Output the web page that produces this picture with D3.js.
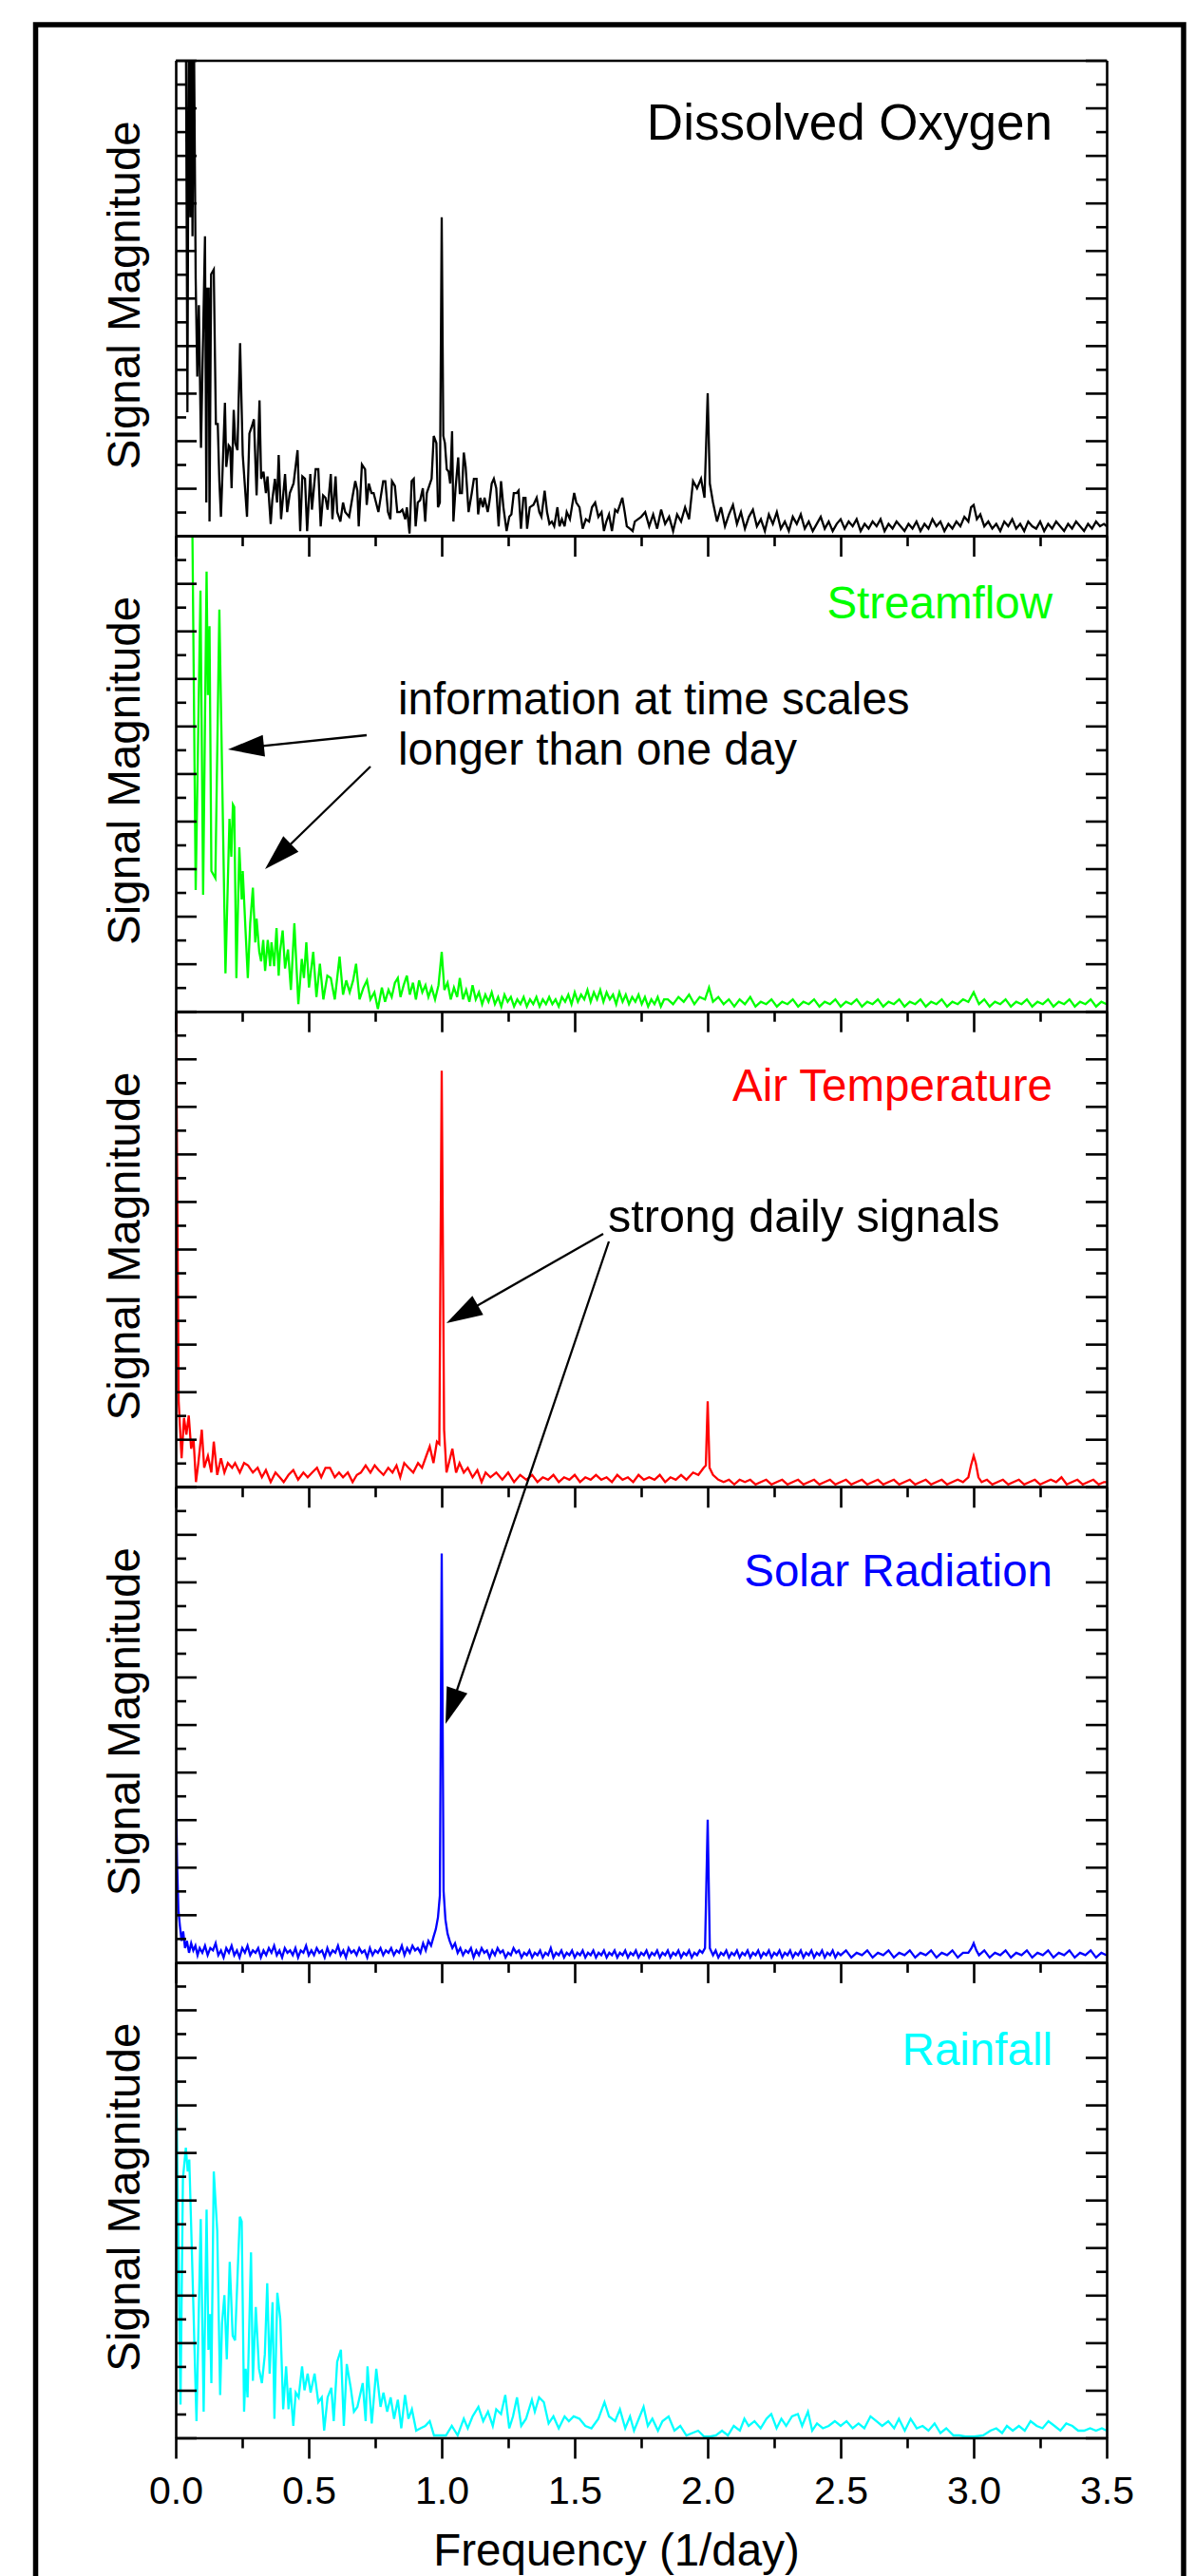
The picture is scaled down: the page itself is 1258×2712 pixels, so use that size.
<!DOCTYPE html>
<html><head><meta charset="utf-8">
<script src="https://cdn.jsdelivr.net/npm/d3@7"></script>
<style>
html,body{margin:0;padding:0;background:#fff;}
svg{display:block;}
text{font-family:"Liberation Sans", Arial, Helvetica, sans-serif;}
</style></head><body>
<svg id="chart" width="1258" height="2712"></svg>
<script>
// ---------------- DATA (frequency [1/day], signal magnitude) ----------------
const seriesNames = ["Dissolved Oxygen","Streamflow","Air Temperature","Solar Radiation","Rainfall"];
const seriesColors = ["#000000","#00ff00","#ff0000","#0000ff","#00ffff"];
const xTickValues = [0,0.5,1,1.5,2,2.5,3,3.5];
const xTickLabels = ["0.0","0.5","1.0","1.5","2.0","2.5","3.0","3.5"];
const xMinorTicks = [0.25,0.75,1.25,1.75,2.25,2.75,3.25];
const yMajorTicks = [0,2,4,6,8,10,12,14,16,18,20];
const yMinorTicks = [1,3,5,7,9,11,13,15,17,19];
const xTitle = "Frequency (1/day)";
const yTitle = "Signal Magnitude";

const dissolvedOxygen = [[0.000,30],[0.030,30],[0.038,22],[0.044,5.2],[0.049,22],[0.055,13.4],[0.059,22],[0.063,12.6],[0.068,22],[0.075,10.8],[0.081,6.7],[0.087,9.7],[0.095,3.7],[0.110,12.6],[0.115,1.4],[0.119,10.4],[0.124,10.4],[0.127,0.6],[0.133,11.0],[0.143,11.2],[0.151,4.7],[0.158,4.7],[0.164,2.3],[0.170,0.8],[0.185,5.6],[0.190,2.9],[0.199,3.8],[0.205,3.7],[0.210,2.0],[0.218,5.3],[0.224,3.9],[0.232,3.6],[0.242,8.1],[0.252,3.4],[0.268,0.8],[0.277,4.3],[0.286,4.6],[0.294,4.9],[0.304,1.7],[0.315,5.7],[0.321,2.4],[0.330,2.7],[0.339,1.8],[0.345,2.5],[0.357,0.5],[0.363,1.5],[0.373,2.4],[0.381,1.4],[0.387,3.4],[0.396,0.7],[0.411,2.6],[0.419,1.0],[0.429,1.8],[0.443,2.2],[0.458,3.6],[0.468,0.2],[0.476,2.5],[0.486,2.4],[0.494,0.2],[0.506,2.6],[0.512,1.1],[0.526,2.8],[0.536,2.8],[0.545,0.4],[0.554,1.7],[0.563,1.6],[0.571,1.1],[0.583,2.6],[0.589,0.7],[0.601,2.5],[0.607,1.0],[0.619,0.6],[0.629,1.4],[0.637,1.0],[0.652,0.8],[0.664,1.6],[0.675,2.3],[0.683,1.9],[0.688,0.4],[0.700,3.0],[0.712,2.8],[0.718,1.3],[0.726,2.2],[0.736,1.8],[0.744,1.8],[0.762,1.0],[0.780,2.3],[0.788,2.3],[0.798,1.0],[0.807,0.7],[0.813,2.3],[0.824,2.1],[0.833,1.0],[0.843,1.0],[0.852,1.1],[0.863,0.7],[0.869,1.2],[0.879,0.1],[0.887,2.3],[0.895,2.4],[0.902,0.4],[0.910,1.4],[0.919,1.5],[0.929,2.0],[0.938,0.6],[0.944,1.8],[0.962,2.4],[0.970,4.2],[0.980,3.9],[0.986,1.2],[0.993,1.4],[1.000,13.4],[1.006,4.2],[1.012,3.9],[1.019,2.8],[1.026,2.7],[1.032,2.2],[1.039,4.4],[1.044,0.6],[1.052,2.0],[1.062,3.3],[1.068,1.8],[1.076,1.8],[1.083,3.5],[1.090,2.9],[1.101,1.0],[1.113,1.8],[1.121,2.4],[1.131,2.4],[1.137,0.9],[1.145,1.6],[1.155,1.2],[1.161,1.6],[1.173,1.0],[1.179,1.4],[1.188,2.2],[1.196,2.4],[1.205,2.0],[1.214,0.4],[1.223,2.3],[1.232,1.2],[1.244,0.2],[1.254,0.8],[1.262,0.9],[1.271,1.8],[1.282,1.8],[1.289,1.9],[1.298,0.3],[1.307,1.6],[1.315,1.6],[1.321,0.3],[1.331,1.2],[1.345,1.3],[1.357,1.6],[1.367,1.0],[1.375,0.8],[1.387,1.9],[1.396,1.0],[1.405,0.5],[1.414,0.6],[1.423,0.4],[1.435,1.2],[1.443,0.4],[1.452,0.7],[1.462,0.4],[1.470,1.0],[1.482,0.7],[1.498,1.8],[1.506,1.4],[1.518,1.2],[1.530,0.3],[1.542,0.7],[1.554,0.6],[1.565,1.2],[1.577,1.4],[1.589,0.8],[1.601,1.0],[1.610,0.2],[1.619,0.6],[1.629,0.9],[1.640,0.2],[1.652,1.1],[1.661,1.0],[1.679,1.6],[1.688,1.0],[1.696,0.4],[1.708,0.3],[1.718,0.2],[1.726,0.6],[1.738,0.7],[1.750,0.8],[1.765,1.0],[1.780,0.4],[1.795,0.9],[1.810,0.3],[1.825,1.1],[1.840,0.5],[1.855,0.8],[1.870,0.2],[1.885,0.9],[1.900,0.6],[1.915,1.2],[1.930,0.7],[1.945,2.3],[1.960,2.0],[1.975,2.4],[1.988,1.6],[2.000,6.0],[2.008,2.2],[2.020,1.4],[2.035,0.6],[2.050,1.2],[2.065,0.4],[2.080,0.9],[2.095,1.3],[2.110,0.5],[2.125,1.0],[2.140,0.3],[2.155,0.8],[2.170,1.1],[2.185,0.4],[2.200,0.7],[2.215,0.2],[2.230,0.9],[2.245,0.5],[2.260,1.0],[2.275,0.3],[2.290,0.6],[2.305,0.2],[2.320,0.8],[2.335,0.5],[2.350,0.9],[2.365,0.3],[2.380,0.6],[2.395,0.2],[2.410,0.5],[2.425,0.8],[2.440,0.3],[2.455,0.6],[2.470,0.2],[2.485,0.5],[2.500,0.7],[2.515,0.3],[2.530,0.6],[2.545,0.4],[2.560,0.7],[2.575,0.2],[2.590,0.5],[2.605,0.3],[2.620,0.6],[2.635,0.4],[2.650,0.7],[2.665,0.2],[2.680,0.5],[2.695,0.3],[2.710,0.6],[2.725,0.4],[2.740,0.2],[2.755,0.5],[2.770,0.3],[2.785,0.6],[2.800,0.2],[2.815,0.5],[2.830,0.3],[2.845,0.7],[2.860,0.4],[2.875,0.6],[2.890,0.2],[2.905,0.5],[2.920,0.3],[2.935,0.6],[2.950,0.4],[2.965,0.8],[2.980,0.6],[2.990,1.2],[3.000,1.3],[3.012,0.7],[3.025,0.9],[3.040,0.4],[3.055,0.6],[3.070,0.3],[3.085,0.5],[3.100,0.2],[3.115,0.6],[3.130,0.4],[3.145,0.7],[3.160,0.3],[3.175,0.5],[3.190,0.2],[3.205,0.6],[3.220,0.4],[3.235,0.3],[3.250,0.6],[3.265,0.2],[3.280,0.5],[3.295,0.3],[3.310,0.6],[3.325,0.4],[3.340,0.2],[3.355,0.5],[3.370,0.3],[3.385,0.6],[3.400,0.4],[3.415,0.2],[3.430,0.5],[3.445,0.3],[3.460,0.6],[3.475,0.4],[3.490,0.5],[3.500,0.4]];

const streamflow = [[0.000,30],[0.058,30],[0.062,21],[0.075,5.1],[0.093,17.7],[0.103,4.9],[0.116,18.5],[0.121,13.3],[0.127,16.2],[0.134,5.9],[0.149,5.6],[0.164,16.9],[0.187,1.6],[0.202,8.1],[0.209,6.5],[0.215,8.7],[0.220,8.6],[0.228,1.4],[0.239,6.9],[0.248,4.7],[0.252,5.9],[0.262,3.5],[0.271,1.4],[0.280,3.7],[0.290,5.2],[0.299,2.9],[0.304,3.9],[0.314,2.5],[0.321,2.1],[0.329,3.0],[0.336,1.7],[0.346,3.0],[0.355,1.9],[0.360,2.9],[0.370,1.9],[0.379,3.5],[0.387,1.5],[0.392,2.5],[0.402,3.4],[0.411,1.8],[0.422,2.6],[0.433,0.9],[0.446,3.7],[0.461,0.3],[0.474,2.2],[0.482,1.4],[0.491,2.9],[0.501,1.0],[0.517,2.5],[0.529,0.6],[0.542,2.0],[0.555,0.5],[0.570,1.5],[0.583,1.4],[0.598,0.5],[0.616,2.3],[0.629,0.7],[0.641,1.3],[0.654,0.8],[0.667,1.3],[0.678,2.0],[0.691,0.5],[0.706,1.0],[0.719,1.3],[0.732,0.5],[0.747,0.8],[0.760,0.1],[0.775,1.0],[0.787,0.4],[0.800,0.9],[0.812,0.6],[0.824,1.2],[0.835,1.4],[0.845,0.6],[0.857,1.1],[0.869,1.5],[0.880,0.7],[0.892,1.2],[0.903,0.5],[0.915,1.3],[0.927,0.8],[0.939,1.1],[0.950,0.6],[0.962,1.0],[0.975,0.5],[0.988,1.1],[1.000,2.5],[1.010,0.9],[1.022,1.2],[1.034,0.5],[1.046,1.0],[1.058,0.6],[1.068,1.4],[1.080,0.5],[1.092,0.9],[1.104,0.4],[1.116,1.1],[1.128,0.5],[1.140,0.8],[1.152,0.3],[1.164,0.7],[1.176,0.4],[1.188,0.8],[1.200,0.3],[1.212,0.6],[1.224,0.2],[1.236,0.7],[1.248,0.4],[1.260,0.6],[1.272,0.2],[1.284,0.5],[1.296,0.3],[1.308,0.6],[1.320,0.2],[1.332,0.5],[1.344,0.3],[1.356,0.6],[1.368,0.2],[1.380,0.5],[1.392,0.3],[1.404,0.6],[1.416,0.3],[1.428,0.5],[1.440,0.2],[1.452,0.6],[1.464,0.4],[1.476,0.7],[1.488,0.3],[1.500,0.8],[1.512,0.4],[1.524,0.7],[1.536,0.5],[1.548,0.9],[1.560,0.4],[1.572,0.8],[1.584,0.5],[1.596,0.9],[1.608,0.4],[1.620,0.8],[1.632,0.5],[1.644,0.7],[1.656,0.3],[1.668,0.8],[1.680,0.4],[1.692,0.7],[1.704,0.3],[1.716,0.6],[1.728,0.4],[1.740,0.7],[1.752,0.3],[1.764,0.6],[1.776,0.2],[1.788,0.5],[1.800,0.3],[1.812,0.6],[1.824,0.2],[1.836,0.5],[1.850,0.5],[1.870,0.3],[1.890,0.6],[1.910,0.4],[1.930,0.7],[1.950,0.3],[1.970,0.6],[1.990,0.5],[2.005,1.0],[2.020,0.4],[2.040,0.6],[2.060,0.3],[2.080,0.5],[2.100,0.2],[2.120,0.5],[2.140,0.3],[2.160,0.6],[2.180,0.2],[2.200,0.4],[2.220,0.3],[2.240,0.5],[2.260,0.2],[2.280,0.4],[2.300,0.3],[2.320,0.5],[2.340,0.2],[2.360,0.4],[2.380,0.3],[2.400,0.5],[2.420,0.2],[2.440,0.4],[2.460,0.3],[2.480,0.5],[2.500,0.2],[2.520,0.4],[2.540,0.3],[2.560,0.5],[2.580,0.2],[2.600,0.4],[2.620,0.3],[2.640,0.5],[2.660,0.2],[2.680,0.4],[2.700,0.3],[2.720,0.5],[2.740,0.2],[2.760,0.4],[2.780,0.3],[2.800,0.5],[2.820,0.2],[2.840,0.4],[2.860,0.3],[2.880,0.5],[2.900,0.2],[2.920,0.4],[2.940,0.3],[2.960,0.5],[2.980,0.4],[3.000,0.8],[3.020,0.3],[3.040,0.5],[3.060,0.2],[3.080,0.4],[3.100,0.3],[3.120,0.5],[3.140,0.2],[3.160,0.4],[3.180,0.3],[3.200,0.5],[3.220,0.2],[3.240,0.4],[3.260,0.3],[3.280,0.5],[3.300,0.2],[3.320,0.4],[3.340,0.3],[3.360,0.5],[3.380,0.2],[3.400,0.4],[3.420,0.3],[3.440,0.5],[3.460,0.2],[3.480,0.4],[3.500,0.3]];

const airTemperature = [[0.000,22],[0.011,3.6],[0.022,1.2],[0.031,2.9],[0.040,2.2],[0.049,3.0],[0.058,1.6],[0.067,2.0],[0.076,0.2],[0.085,1.0],[0.098,2.4],[0.107,0.8],[0.121,1.3],[0.134,0.6],[0.143,1.9],[0.156,0.5],[0.170,1.2],[0.183,0.6],[0.196,1.0],[0.212,0.8],[0.223,1.0],[0.241,0.6],[0.257,1.0],[0.272,0.9],[0.290,0.6],[0.308,0.8],[0.324,0.4],[0.339,0.7],[0.357,0.2],[0.375,0.6],[0.391,0.4],[0.406,0.2],[0.424,0.5],[0.442,0.7],[0.460,0.3],[0.480,0.6],[0.496,0.4],[0.513,0.6],[0.531,0.8],[0.547,0.4],[0.563,0.8],[0.580,0.8],[0.598,0.4],[0.614,0.6],[0.629,0.4],[0.647,0.6],[0.665,0.2],[0.681,0.5],[0.696,0.6],[0.714,0.9],[0.732,0.6],[0.748,0.9],[0.763,0.7],[0.781,0.5],[0.799,0.8],[0.815,0.6],[0.830,0.9],[0.844,0.4],[0.859,1.0],[0.875,0.8],[0.893,0.6],[0.911,1.0],[0.926,0.8],[0.942,1.3],[0.955,1.7],[0.969,1.0],[0.982,1.9],[0.991,1.8],[1.000,17.5],[1.009,2.4],[1.018,0.6],[1.027,1.0],[1.040,1.6],[1.054,0.6],[1.067,1.0],[1.083,0.6],[1.098,0.8],[1.116,0.4],[1.134,0.7],[1.150,0.2],[1.165,0.6],[1.183,0.4],[1.205,0.6],[1.228,0.3],[1.250,0.6],[1.272,0.2],[1.295,0.5],[1.318,0.3],[1.340,0.5],[1.360,0.2],[1.380,0.4],[1.400,0.3],[1.420,0.5],[1.440,0.2],[1.460,0.4],[1.480,0.3],[1.500,0.5],[1.520,0.2],[1.540,0.4],[1.560,0.3],[1.580,0.5],[1.600,0.3],[1.620,0.4],[1.640,0.2],[1.660,0.5],[1.680,0.3],[1.700,0.4],[1.720,0.2],[1.740,0.5],[1.760,0.3],[1.780,0.4],[1.800,0.3],[1.820,0.5],[1.840,0.2],[1.860,0.4],[1.880,0.3],[1.900,0.5],[1.920,0.3],[1.945,0.6],[1.965,0.5],[1.985,0.8],[1.993,0.9],[2.000,3.6],[2.007,0.8],[2.020,0.5],[2.040,0.3],[2.060,0.2],[2.080,0.3],[2.100,0.1],[2.120,0.3],[2.140,0.2],[2.160,0.3],[2.180,0.1],[2.200,0.2],[2.220,0.3],[2.240,0.1],[2.260,0.2],[2.280,0.3],[2.300,0.1],[2.320,0.2],[2.340,0.3],[2.360,0.1],[2.380,0.2],[2.400,0.3],[2.420,0.1],[2.440,0.2],[2.460,0.3],[2.480,0.1],[2.500,0.2],[2.520,0.3],[2.540,0.1],[2.560,0.2],[2.580,0.3],[2.600,0.1],[2.620,0.2],[2.640,0.3],[2.660,0.1],[2.680,0.2],[2.700,0.3],[2.720,0.1],[2.740,0.2],[2.760,0.3],[2.780,0.1],[2.800,0.2],[2.820,0.3],[2.840,0.1],[2.860,0.2],[2.880,0.3],[2.900,0.1],[2.920,0.2],[2.940,0.3],[2.960,0.2],[2.980,0.4],[2.990,0.9],[3.000,1.3],[3.008,1.0],[3.018,0.4],[3.030,0.2],[3.050,0.3],[3.070,0.1],[3.090,0.2],[3.110,0.3],[3.130,0.1],[3.150,0.2],[3.170,0.3],[3.190,0.1],[3.210,0.2],[3.230,0.3],[3.250,0.1],[3.270,0.2],[3.290,0.3],[3.310,0.2],[3.330,0.4],[3.350,0.1],[3.370,0.2],[3.390,0.3],[3.410,0.1],[3.430,0.2],[3.450,0.3],[3.470,0.1],[3.490,0.2],[3.500,0.2]];

const solarRadiation = [[0.000,8.0],[0.005,4.2],[0.010,2.2],[0.016,1.5],[0.022,0.9],[0.028,1.3],[0.035,0.6],[0.042,0.9],[0.050,0.4],[0.058,0.8],[0.066,0.5],[0.074,0.7],[0.082,0.3],[0.090,0.6],[0.100,0.4],[0.110,0.7],[0.120,0.3],[0.130,0.6],[0.140,0.5],[0.150,0.8],[0.160,0.3],[0.170,0.5],[0.180,0.2],[0.190,0.6],[0.200,0.4],[0.210,0.7],[0.220,0.3],[0.230,0.5],[0.240,0.2],[0.250,0.6],[0.260,0.4],[0.270,0.7],[0.280,0.3],[0.290,0.5],[0.300,0.4],[0.310,0.6],[0.320,0.2],[0.330,0.5],[0.340,0.3],[0.350,0.6],[0.360,0.4],[0.370,0.7],[0.380,0.3],[0.390,0.5],[0.400,0.2],[0.410,0.6],[0.420,0.4],[0.430,0.5],[0.440,0.3],[0.450,0.6],[0.460,0.2],[0.470,0.5],[0.480,0.4],[0.490,0.7],[0.500,0.3],[0.510,0.5],[0.520,0.3],[0.530,0.6],[0.540,0.4],[0.550,0.5],[0.560,0.2],[0.570,0.6],[0.580,0.3],[0.590,0.5],[0.600,0.4],[0.610,0.7],[0.620,0.3],[0.630,0.5],[0.640,0.2],[0.650,0.6],[0.660,0.4],[0.670,0.5],[0.680,0.3],[0.690,0.6],[0.700,0.4],[0.710,0.5],[0.720,0.2],[0.730,0.6],[0.740,0.3],[0.750,0.5],[0.760,0.4],[0.770,0.6],[0.780,0.3],[0.790,0.5],[0.800,0.4],[0.810,0.6],[0.820,0.3],[0.830,0.5],[0.840,0.4],[0.850,0.7],[0.860,0.3],[0.870,0.6],[0.880,0.4],[0.890,0.7],[0.900,0.5],[0.910,0.6],[0.920,0.4],[0.930,0.8],[0.940,0.5],[0.950,0.9],[0.960,0.7],[0.970,1.1],[0.978,1.4],[0.986,1.9],[0.993,2.8],[1.000,17.2],[1.007,3.0],[1.014,1.8],[1.022,1.2],[1.030,0.9],[1.040,0.6],[1.050,0.8],[1.060,0.4],[1.070,0.6],[1.080,0.3],[1.090,0.5],[1.100,0.4],[1.110,0.6],[1.120,0.2],[1.130,0.5],[1.140,0.3],[1.150,0.6],[1.160,0.4],[1.170,0.5],[1.180,0.2],[1.190,0.5],[1.200,0.3],[1.210,0.6],[1.220,0.4],[1.230,0.5],[1.240,0.2],[1.250,0.4],[1.260,0.3],[1.270,0.6],[1.280,0.4],[1.290,0.5],[1.300,0.2],[1.310,0.4],[1.320,0.3],[1.330,0.5],[1.340,0.2],[1.350,0.4],[1.360,0.3],[1.370,0.5],[1.380,0.2],[1.390,0.4],[1.400,0.3],[1.410,0.6],[1.420,0.2],[1.430,0.4],[1.440,0.3],[1.450,0.5],[1.460,0.2],[1.470,0.4],[1.480,0.3],[1.490,0.5],[1.500,0.2],[1.510,0.4],[1.520,0.3],[1.530,0.5],[1.540,0.2],[1.550,0.4],[1.560,0.3],[1.570,0.5],[1.580,0.2],[1.590,0.4],[1.600,0.3],[1.610,0.5],[1.620,0.2],[1.630,0.4],[1.640,0.3],[1.650,0.5],[1.660,0.2],[1.670,0.4],[1.680,0.3],[1.690,0.5],[1.700,0.2],[1.710,0.4],[1.720,0.3],[1.730,0.5],[1.740,0.2],[1.750,0.4],[1.760,0.3],[1.770,0.5],[1.780,0.2],[1.790,0.4],[1.800,0.3],[1.810,0.5],[1.820,0.2],[1.830,0.4],[1.840,0.3],[1.850,0.5],[1.860,0.2],[1.870,0.4],[1.880,0.3],[1.890,0.5],[1.900,0.2],[1.910,0.4],[1.920,0.3],[1.930,0.5],[1.940,0.2],[1.950,0.4],[1.960,0.3],[1.970,0.5],[1.980,0.4],[1.990,0.6],[2.000,6.0],[2.008,0.6],[2.020,0.3],[2.030,0.5],[2.040,0.2],[2.050,0.4],[2.060,0.3],[2.070,0.5],[2.080,0.2],[2.090,0.4],[2.100,0.3],[2.110,0.5],[2.120,0.2],[2.130,0.4],[2.140,0.3],[2.150,0.5],[2.160,0.2],[2.170,0.4],[2.180,0.3],[2.190,0.5],[2.200,0.2],[2.210,0.4],[2.220,0.3],[2.230,0.5],[2.240,0.2],[2.250,0.4],[2.260,0.3],[2.270,0.5],[2.280,0.2],[2.290,0.4],[2.300,0.3],[2.310,0.5],[2.320,0.2],[2.330,0.4],[2.340,0.3],[2.350,0.5],[2.360,0.2],[2.370,0.4],[2.380,0.3],[2.390,0.5],[2.400,0.2],[2.410,0.4],[2.420,0.3],[2.430,0.5],[2.440,0.2],[2.450,0.4],[2.460,0.3],[2.470,0.5],[2.480,0.2],[2.490,0.4],[2.500,0.3],[2.520,0.5],[2.540,0.2],[2.560,0.4],[2.580,0.3],[2.600,0.5],[2.620,0.2],[2.640,0.4],[2.660,0.3],[2.680,0.5],[2.700,0.2],[2.720,0.4],[2.740,0.3],[2.760,0.5],[2.780,0.2],[2.800,0.4],[2.820,0.3],[2.840,0.5],[2.860,0.2],[2.880,0.4],[2.900,0.3],[2.920,0.5],[2.940,0.2],[2.960,0.4],[2.980,0.4],[2.992,0.6],[3.000,0.8],[3.010,0.5],[3.020,0.3],[3.040,0.5],[3.060,0.2],[3.080,0.4],[3.100,0.3],[3.120,0.5],[3.140,0.2],[3.160,0.4],[3.180,0.3],[3.200,0.5],[3.220,0.2],[3.240,0.4],[3.260,0.3],[3.280,0.5],[3.300,0.2],[3.320,0.4],[3.340,0.3],[3.360,0.5],[3.380,0.2],[3.400,0.4],[3.420,0.3],[3.440,0.5],[3.460,0.2],[3.480,0.4],[3.500,0.3]];

const rainfall = [[0.000,16.7],[0.018,1.4],[0.027,10.9],[0.038,12.2],[0.045,11.2],[0.051,11.7],[0.063,6.9],[0.078,0.7],[0.094,9.2],[0.105,1.1],[0.116,9.6],[0.123,3.7],[0.129,5.2],[0.134,2.3],[0.143,11.2],[0.156,8.7],[0.167,1.8],[0.174,4.8],[0.183,6.0],[0.192,3.3],[0.203,7.4],[0.214,4.3],[0.223,4.1],[0.232,6.7],[0.241,9.3],[0.248,9.1],[0.257,1.1],[0.263,2.9],[0.270,1.7],[0.283,7.8],[0.290,2.4],[0.301,5.5],[0.313,2.9],[0.324,2.3],[0.335,3.5],[0.344,6.5],[0.353,2.7],[0.364,5.7],[0.371,0.8],[0.382,6.1],[0.393,5.0],[0.404,1.2],[0.415,3.0],[0.424,1.2],[0.431,2.1],[0.442,0.5],[0.451,1.9],[0.462,1.7],[0.475,3.0],[0.484,2.0],[0.496,2.7],[0.507,1.9],[0.522,2.7],[0.536,1.5],[0.549,1.7],[0.558,0.3],[0.571,1.7],[0.585,2.1],[0.594,0.7],[0.607,3.2],[0.621,3.7],[0.632,0.5],[0.643,3.1],[0.658,2.1],[0.670,1.1],[0.683,1.3],[0.703,2.3],[0.714,0.7],[0.721,3.0],[0.737,0.6],[0.754,2.9],[0.770,1.3],[0.781,1.9],[0.795,1.1],[0.808,1.7],[0.821,0.8],[0.835,1.6],[0.848,0.4],[0.862,1.8],[0.875,0.8],[0.888,1.2],[0.904,0.3],[0.920,0.4],[0.938,0.5],[0.955,0.7],[0.971,0.1],[0.993,0.1],[1.016,0.1],[1.038,0.5],[1.060,0.1],[1.083,0.8],[1.098,0.4],[1.116,0.9],[1.138,1.3],[1.156,0.7],[1.174,1.1],[1.192,0.5],[1.205,1.2],[1.223,1.0],[1.239,1.8],[1.254,0.4],[1.268,0.9],[1.283,1.7],[1.299,0.5],[1.317,0.8],[1.339,1.6],[1.350,1.1],[1.366,1.7],[1.384,1.5],[1.402,0.6],[1.420,0.9],[1.440,0.4],[1.462,0.9],[1.478,0.7],[1.496,0.9],[1.518,0.8],[1.540,0.5],[1.563,0.4],[1.589,0.8],[1.612,1.5],[1.629,0.9],[1.652,0.7],[1.670,1.2],[1.690,0.4],[1.708,0.9],[1.723,0.3],[1.741,0.8],[1.759,1.3],[1.775,0.5],[1.792,0.8],[1.813,0.3],[1.830,0.7],[1.853,0.9],[1.875,0.3],[1.897,0.5],[1.920,0.1],[1.942,0.2],[1.964,0.3],[1.987,0.05],[2.009,0.05],[2.031,0.1],[2.054,0.3],[2.076,0.1],[2.098,0.5],[2.121,0.3],[2.138,0.8],[2.154,0.5],[2.176,0.7],[2.199,0.4],[2.221,0.8],[2.239,1.0],[2.259,0.4],[2.277,0.8],[2.295,0.5],[2.317,0.9],[2.339,1.0],[2.355,0.5],[2.377,1.1],[2.393,0.3],[2.411,0.6],[2.433,0.4],[2.455,0.5],[2.478,0.7],[2.500,0.5],[2.522,0.7],[2.545,0.4],[2.567,0.6],[2.589,0.4],[2.612,0.9],[2.634,0.7],[2.656,0.5],[2.679,0.7],[2.701,0.4],[2.719,0.8],[2.741,0.3],[2.763,0.8],[2.786,0.4],[2.808,0.5],[2.830,0.3],[2.853,0.6],[2.875,0.2],[2.897,0.4],[2.924,0.1],[2.946,0.1],[2.969,0.05],[3.002,0.05],[3.036,0.1],[3.063,0.3],[3.085,0.4],[3.107,0.2],[3.125,0.5],[3.147,0.3],[3.170,0.5],[3.192,0.3],[3.214,0.7],[3.237,0.5],[3.259,0.4],[3.281,0.7],[3.304,0.5],[3.326,0.3],[3.348,0.6],[3.371,0.5],[3.393,0.3],[3.415,0.3],[3.438,0.4],[3.460,0.3],[3.482,0.4],[3.500,0.3]];

const seriesData = [dissolvedOxygen, streamflow, airTemperature, solarRadiation, rainfall];

// ---------------- LAYOUT ----------------
const plotLeft = 185, plotRight = 1165, plotTop = 63.5, panelH = 500.6;
const labelRight = 1108;
const labelOffsets = [83.5, 87, 94.5, 105, 108.5];
const labelSizes = [53, 47.5, 47.5, 47.5, 47.5];
const fontSize = 47.5;
const svg = d3.select("#chart");

// outer frame
svg.append("rect").attr("x", 37.5).attr("y", 26).attr("width", 1246 - 37.5).attr("height", 3000)
  .attr("fill", "none").attr("stroke", "#000").attr("stroke-width", 5.5);

const x = d3.scaleLinear().domain([0, 3.5]).range([plotLeft, plotRight]);
const defs = svg.append("defs");

function styleAxis(g) {
  g.selectAll(".domain").attr("stroke", "#000").attr("stroke-width", 2.6);
  g.selectAll(".tick line").attr("stroke", "#000").attr("stroke-width", 2.6);
}

seriesData.forEach((data, i) => {
  const top = plotTop + i * panelH, bottom = top + panelH;
  const y = d3.scaleLinear().domain([0, 20]).range([bottom, top]);
  defs.append("clipPath").attr("id", "clip" + i).append("rect")
    .attr("x", plotLeft).attr("y", top).attr("width", plotRight - plotLeft).attr("height", panelH);

  svg.append("path").datum(data)
    .attr("clip-path", `url(#clip${i})`)
    .attr("fill", "none").attr("stroke", seriesColors[i]).attr("stroke-width", 2.3)
    .attr("stroke-linejoin", "miter")
    .attr("d", d3.line().x(d => x(d[0])).y(d => y(d[1])));

  // left axis
  const gl = svg.append("g").attr("transform", `translate(${plotLeft},0)`);
  gl.call(d3.axisLeft(y).tickValues(yMajorTicks).tickSize(-22).tickSizeOuter(0).tickFormat(""));
  gl.append("g").call(d3.axisLeft(y).tickValues(yMinorTicks).tickSize(-11).tickSizeOuter(0).tickFormat(""))
    .select(".domain").remove();
  styleAxis(gl);
  // right axis
  const gr = svg.append("g").attr("transform", `translate(${plotRight},0)`);
  gr.call(d3.axisRight(y).tickValues(yMajorTicks).tickSize(-22).tickSizeOuter(0).tickFormat(""));
  gr.append("g").call(d3.axisRight(y).tickValues(yMinorTicks).tickSize(-11).tickSizeOuter(0).tickFormat(""))
    .select(".domain").remove();
  styleAxis(gr);
  // top line
  const gt = svg.append("g").attr("transform", `translate(0,${top})`);
  gt.call(d3.axisTop(x).tickValues([]).tickSizeOuter(0));
  styleAxis(gt);
  // bottom axis
  const gb = svg.append("g").attr("transform", `translate(0,${bottom})`);
  const last = i === seriesData.length - 1;
  gb.call(d3.axisBottom(x).tickValues(xTickValues).tickSize(22).tickSizeOuter(0)
    .tickFormat((d, k) => last ? xTickLabels[k] : ""));
  gb.append("g").call(d3.axisBottom(x).tickValues(xMinorTicks).tickSize(11).tickSizeOuter(0).tickFormat(""))
    .select(".domain").remove();
  styleAxis(gb);
  gb.selectAll("text").attr("y", 69).attr("dy", null)
    .attr("font-size", 41).attr("fill", "#000")
    .attr("font-family", '"Liberation Sans", Arial, sans-serif');

  // y title
  svg.append("text")
    .attr("transform", `translate(147,${(top + bottom) / 2 - 3}) rotate(-90)`)
    .attr("text-anchor", "middle").attr("font-size", fontSize).attr("fill", "#000")
    .text(yTitle);

  // panel label
  svg.append("text").attr("x", labelRight).attr("y", top + labelOffsets[i])
    .attr("text-anchor", "end").attr("font-size", labelSizes[i]).attr("fill", seriesColors[i])
    .text(seriesNames[i]);
});

// x title
svg.append("text").attr("x", 649).attr("y", 2701).attr("text-anchor", "middle")
  .attr("font-size", fontSize).attr("fill", "#000").text(xTitle);

// annotations
const annGroup = svg.append("g");
annGroup.append("text").attr("x", 419).attr("y", 752).attr("font-size", fontSize).text("information at time scales");
annGroup.append("text").attr("x", 419).attr("y", 805).attr("font-size", fontSize).text("longer than one day");
annGroup.append("text").attr("x", 640).attr("y", 1297).attr("font-size", 48.5).text("strong daily signals");

function arrow(x1, y1, x2, y2) {
  const dx = x2 - x1, dy = y2 - y1, len = Math.hypot(dx, dy);
  const ux = dx / len, uy = dy / len, L = 38, Wd = 11.5;
  const bx = x2 - ux * L, by = y2 - uy * L;
  annGroup.append("line").attr("x1", x1).attr("y1", y1).attr("x2", bx + ux * 4).attr("y2", by + uy * 4)
    .attr("stroke", "#000").attr("stroke-width", 2.3);
  annGroup.append("path")
    .attr("d", `M${x2},${y2}L${bx - uy * Wd},${by + ux * Wd}L${bx + uy * Wd},${by - ux * Wd}Z`)
    .attr("fill", "#000");
}
arrow(386, 774, 240, 789);
arrow(390, 807, 279, 915);
arrow(635, 1299, 470, 1393);
arrow(641, 1307, 469, 1815);
</script>
</body></html>
